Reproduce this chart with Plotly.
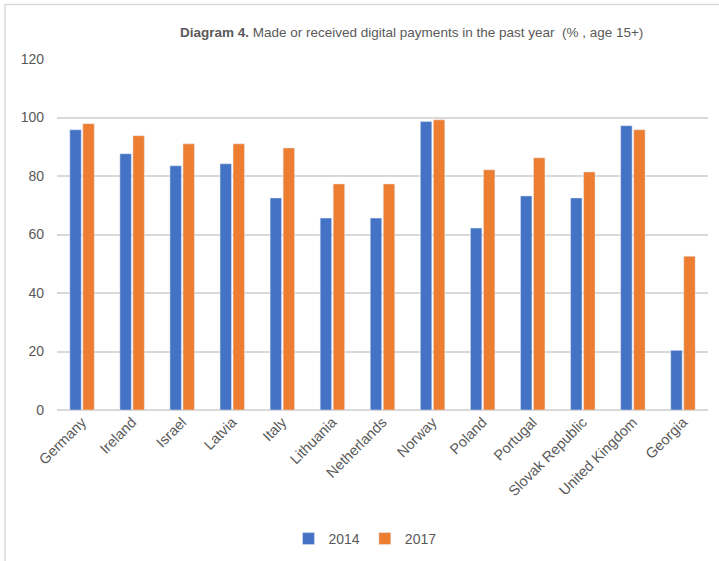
import plotly.graph_objects as go

countries = ["Germany", "Ireland", "Israel", "Latvia", "Italy", "Lithuania", "Netherlands",
             "Norway", "Poland", "Portugal", "Slovak Republic", "United Kingdom", "Georgia"]
v2014 = [95.8, 87.6, 83.5, 84.2, 72.5, 65.6, 65.6, 98.6, 62.2, 73.2, 72.5, 97.2, 20.4]
v2017 = [97.9, 93.8, 91.0, 91.0, 89.6, 77.3, 77.3, 99.2, 82.1, 86.2, 81.4, 95.8, 52.6]
yticks = [0, 20, 40, 60, 80, 100, 120]

W, H = 719, 561
L, R, T, B = 57, 11, 59, 151
pw, ph = W - L - R, H - T - B

def px_x(x):
    return (x - L) / pw

def px_y(y):
    return (H - B - y) / ph

fig = go.Figure()
fig.add_trace(go.Bar(name="2014", x=countries, y=v2014, marker_color="#4472C4"))
fig.add_trace(go.Bar(name="2017", x=countries, y=v2017, marker_color="#ED7D31"))

xfont = dict(family="Liberation Sans, Arial, sans-serif", size=14.5, color="#595959")
yfont = dict(family="Liberation Sans, Arial, sans-serif", size=14, color="#595959")
border = dict(color="#D9D9D9", width=1.5)

fig.update_layout(
    width=W, height=H,
    margin=dict(l=L, r=R, t=T, b=B, autoexpand=False),
    paper_bgcolor="white", plot_bgcolor="white",
    barmode="group", bargap=0.48, bargroupgap=0.12,
    showlegend=True,
    legend=dict(orientation="h", x=px_x(365), y=px_y(539), xanchor="center", yanchor="middle",
                font=dict(family="Liberation Sans, Arial, sans-serif", size=14, color="#595959"),
                itemwidth=30, traceorder="normal"),
    xaxis=dict(tickangle=-45, tickfont=xfont, showgrid=False, showline=False, ticks="",
               automargin=False),
    yaxis=dict(range=[0, 120], tickvals=yticks, tickfont=yfont, showgrid=True,
               gridcolor="#D9D9D9", gridwidth=1.5, zeroline=True, zerolinecolor="#D9D9D9",
               zerolinewidth=1.5, showline=False, ticks="", ticklabelstandoff=12,
               automargin=False),
    annotations=[dict(
        text="<b>Diagram 4.</b> Made or received digital payments in the past year  (% , age 15+)",
        xref="paper", yref="paper", x=px_x(411), y=px_y(33), xanchor="center", yanchor="middle",
        showarrow=False,
        font=dict(family="Liberation Sans, Arial, sans-serif", size=13.5, color="#595959"))],
    shapes=[
        dict(type="line", xref="paper", yref="paper",
             x0=px_x(5), x1=px_x(719), y0=px_y(4.5), y1=px_y(4.5), line=border, layer="below"),
        dict(type="line", xref="paper", yref="paper",
             x0=px_x(5), x1=px_x(5), y0=px_y(4.5), y1=px_y(561), line=border, layer="below"),
    ],
)

fig.write_html("out.html")
